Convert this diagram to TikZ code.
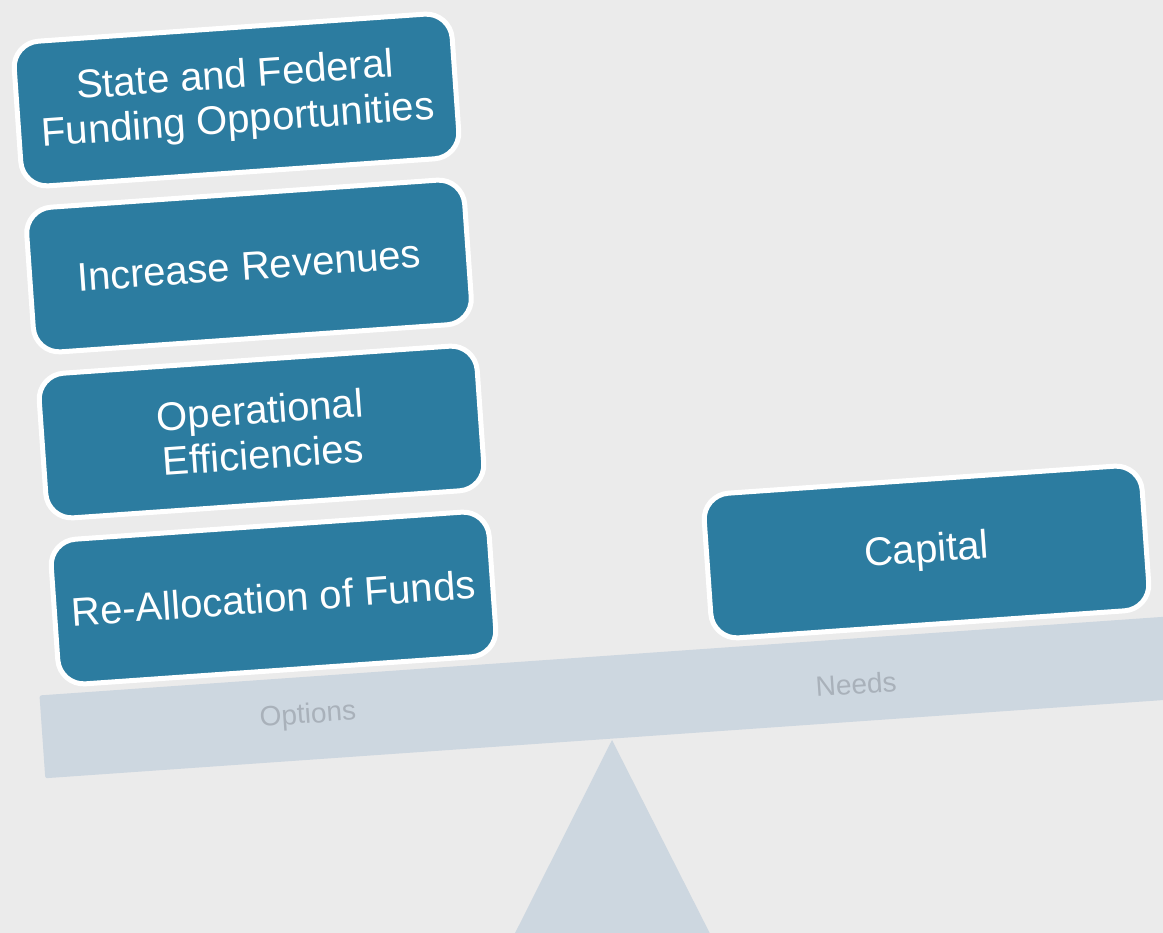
\documentclass[tikz,border=0pt]{standalone}
\usepackage{fontspec}
\setmainfont{Liberation Sans}
\definecolor{bggray}{HTML}{EBEBEB}
\definecolor{boxblue}{HTML}{2C7CA0}
\definecolor{beamgray}{HTML}{CDD7E0}
\definecolor{labelgray}{HTML}{A9B1BA}
\tikzset{
  card/.style={rectangle, rounded corners=26pt, fill=boxblue, draw=white, line width=5pt,
    minimum width=439pt, minimum height=145pt, text=white, align=center,
    font=\fontsize{40}{45}\selectfont, rotate=4, inner sep=0pt},
  beamlabel/.style={text=labelgray, font=\fontsize{28}{30}\selectfont, rotate=4, inner sep=0pt}
}
\begin{document}
\begin{tikzpicture}[x=1pt,y=-1pt,line join=round]
\useasboundingbox (0,0) coordinate (TL) rectangle (1163,933) coordinate (BR);
\fill[bggray] (TL) rectangle (BR);
\clip (TL) rectangle (BR);
\path
(612,740) coordinate (T)
(490,983) coordinate (TA)
(735,983) coordinate (TB)
;
% fulcrum and beam
\fill[beamgray] (T)--(TA)--(TB)--cycle;
\node[rectangle, rounded corners=2pt, fill=beamgray, minimum width=1142pt, minimum height=83pt, rotate=4, inner sep=0pt] (beam) at (612,697) {};
\node[beamlabel] (options) at (308,716) {Options};
\node[beamlabel] (needs) at (856,684) {Needs};
% stacked boxes
\foreach \n/\x/\y/\t in {fund/236.5/100/{State and Federal\\Funding Opportunities},
  revenue/249/266/{Increase Revenues},
  ops/261.5/432/{Operational\\Efficiencies},
  realloc/273.5/598/{Re-Allocation of Funds},
  capital/926.5/552/{Capital}}
\node[card] (\n) at (\x,\y) {\t};
\end{tikzpicture}
\end{document}
